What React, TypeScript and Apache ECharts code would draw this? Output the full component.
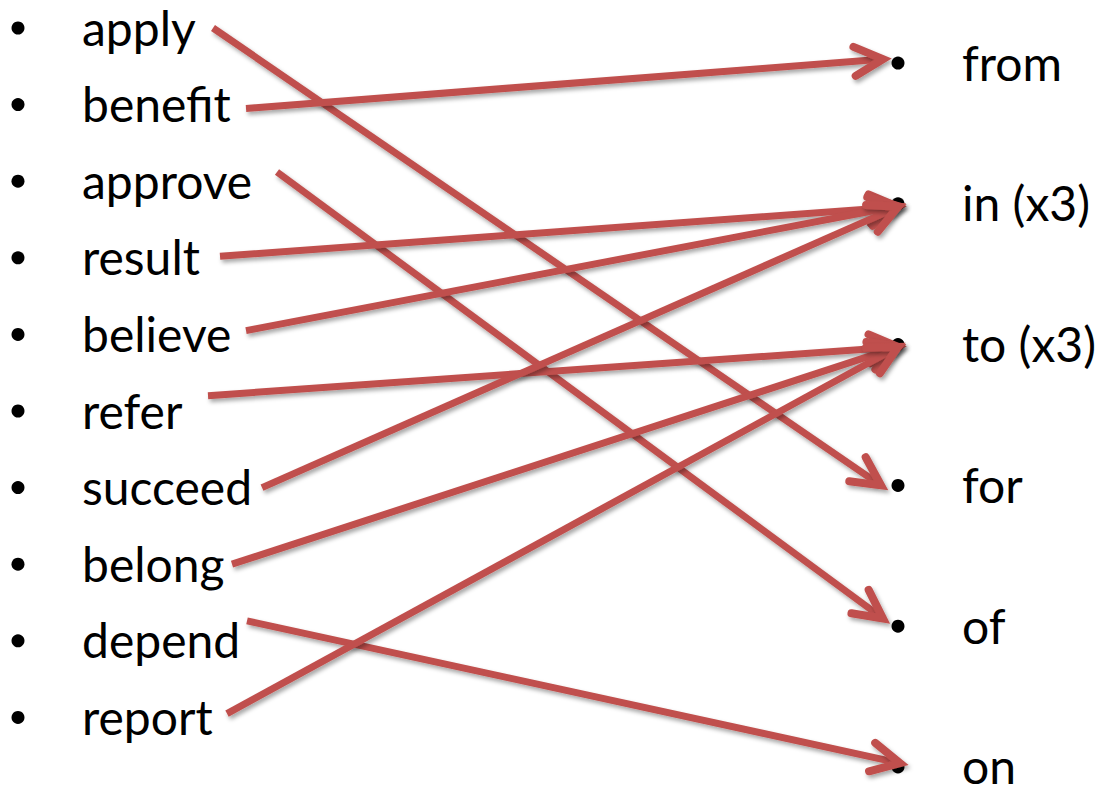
import React, { useEffect, useRef } from "react";
import * as echarts from "echarts";

// Left column: verbs (row index = position in list)
const leftWords = ["apply", "benefit", "approve", "result", "believe", "refer", "succeed", "belong", "depend", "report"];
// Right column: prepositions
const rightWords = ["from", "in (x3)", "to (x3)", "for", "of", "on"];

// Links: verb -> preposition
const linkSources = ["apply", "benefit", "approve", "result", "believe", "refer", "succeed", "belong", "depend", "report"];
const linkTargets = ["for", "from", "of", "in (x3)", "in (x3)", "to (x3)", "in (x3)", "to (x3)", "on", "to (x3)"];
// Where each arrow leaves its verb (x in layout units, y shift in row units)
const linkStartX = [213, 246, 277, 220, 246, 208, 262, 232, 247, 227];
const linkStartDy = [0, 0.05, -0.12, -0.02, -0.05, -0.2, 0, 0, -0.26, -0.05];
// Where each arrow tip lands (x in layout units, y shift in row units)
const linkEndX = [881, 883, 883, 898, 898, 898, 898, 898, 900, 898];
const linkEndDy = [0, -0.05, -0.1, 0.04, 0.03, 0.03, 0.04, 0.03, -0.05, 0.03];

// Layout constants
const W = 1101;
const H = 791;
const ROW_PX = 76.6;
const FIRST_ROW_PX = 28;
const RIGHT_OFFSET = 0.457; // right rows start, in left-row units
const RIGHT_STEP = 1.838; // right rows spacing, in left-row units
const LEFT_BULLET_X = 18;
const LEFT_TEXT_X = 82;
const RIGHT_BULLET_X = 898;
const RIGHT_TEXT_X = 962;
const RED = "#C0504D";
const FONT = "Lato, 'Open Sans', sans-serif";
const FONT_SIZE = 48;

const rightY = (j: number) => RIGHT_OFFSET + j * RIGHT_STEP;

export default function App() {
  const ref = useRef<HTMLDivElement>(null);
  useEffect(() => {
    const chart = echarts.init(ref.current!, null, { renderer: "svg" });

    const leftData = leftWords.map((_, i) => [LEFT_BULLET_X, i, LEFT_TEXT_X]);
    const rightData = rightWords.map((_, j) => [RIGHT_BULLET_X, rightY(j), RIGHT_TEXT_X]);
    const linkData = linkSources.map((s, k) => [
      linkStartX[k],
      leftWords.indexOf(s) + linkStartDy[k],
      linkEndX[k],
      rightY(rightWords.indexOf(linkTargets[k])) + linkEndDy[k],
    ]);

    const shadow = {
      shadowBlur: 4,
      shadowOffsetX: 2,
      shadowOffsetY: 3,
      shadowColor: "rgba(0,0,0,0.35)",
    };

    const makeWordRender = (words: string[]) => (params: any, api: any) => {
      const b = api.coord([api.value(0), api.value(1)]);
      const t = api.coord([api.value(2), api.value(1)]);
      return {
        type: "group",
        children: [
          { type: "circle", shape: { cx: b[0], cy: b[1], r: 6.5 }, style: { fill: "#000" } },
          {
            type: "text",
            style: {
              text: words[params.dataIndex],
              x: t[0],
              y: t[1] - 1,
              fill: "#000",
              fontSize: FONT_SIZE,
              fontFamily: FONT,
              lineHeight: 42,
              align: "left",
              verticalAlign: "middle",
            },
          },
        ],
      };
    };

    const option: any = {
      animation: false,
      backgroundColor: "#fff",
      grid: { left: 0, right: 0, top: 0, bottom: 0, containLabel: false },
      xAxis: { type: "value", min: 0, max: W, show: false },
      yAxis: {
        type: "value",
        inverse: true,
        min: -FIRST_ROW_PX / ROW_PX,
        max: (H - FIRST_ROW_PX) / ROW_PX,
        show: false,
      },
      series: [
        {
          type: "custom",
          name: "verbs",
          silent: true,
          clip: false,
          encode: { x: [0, 2], y: 1 },
          data: leftData,
          renderItem: makeWordRender(leftWords),
        },
        {
          type: "custom",
          name: "prepositions",
          silent: true,
          clip: false,
          encode: { x: [0, 2], y: 1 },
          data: rightData,
          renderItem: makeWordRender(rightWords),
        },
        {
          type: "custom",
          name: "links",
          silent: true,
          clip: false,
          encode: { x: [0, 2], y: [1, 3] },
          data: linkData,
          z: 3,
          renderItem: (params: any, api: any) => {
            const p1 = api.coord([api.value(0), api.value(1)]);
            const p2 = api.coord([api.value(2), api.value(3)]);
            const dx = p2[0] - p1[0];
            const dy = p2[1] - p1[1];
            const len = Math.sqrt(dx * dx + dy * dy);
            const ux = dx / len;
            const uy = dy / len;
            const L = 32;
            const a = (27 * Math.PI) / 180;
            const rot = (ang: number) => [
              -(ux * Math.cos(ang) - uy * Math.sin(ang)) * L,
              -(ux * Math.sin(ang) + uy * Math.cos(ang)) * L,
            ];
            const r1 = rot(a);
            const r2 = rot(-a);
            const endLine = [p2[0] - ux * 5, p2[1] - uy * 5];
            return {
              type: "group",
              children: [
                {
                  type: "line",
                  shape: { x1: p1[0], y1: p1[1], x2: endLine[0], y2: endLine[1] },
                  style: { stroke: RED, lineWidth: 7, lineCap: "butt", ...shadow },
                },
                {
                  type: "polyline",
                  shape: {
                    points: [
                      [p2[0] + r1[0], p2[1] + r1[1]],
                      [p2[0], p2[1]],
                      [p2[0] + r2[0], p2[1] + r2[1]],
                    ],
                  },
                  style: { stroke: RED, fill: "none", lineWidth: 8, lineCap: "round", lineJoin: "miter", ...shadow },
                },
              ],
            };
          },
        },
      ],
    };

    chart.setOption(option);
    return () => chart.dispose();
  }, []);

  return (
    <div
      ref={ref}
      style={{ position: "absolute", left: 0, top: 0, width: W, height: H, background: "#fff" }}
    />
  );
}
